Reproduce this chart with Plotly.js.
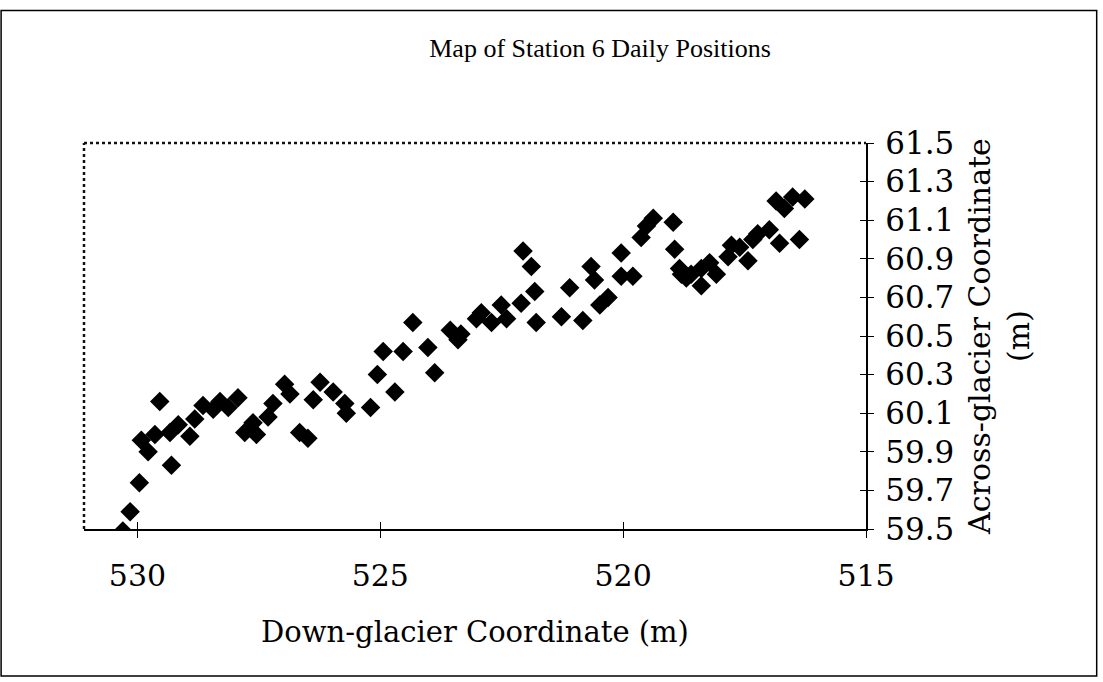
<!DOCTYPE html>
<html>
<head>
<meta charset="utf-8">
<script src="https://cdn.plot.ly/plotly-3.0.1.min.js"></script>
<style>
html,body{margin:0;padding:0;background:#fff;}
#chart{width:1103px;height:682px;}
</style>
</head>
<body>
<div id="chart"></div>
<script>
// Down-glacier coordinate (m)
const downGlacier = [
  530.30, 530.15, 529.96, 529.92, 529.78, 529.64, 529.54, 529.33, 529.30, 529.16,
  528.92, 528.82, 528.65, 528.44, 528.30, 528.13, 527.93, 527.79, 527.62, 527.55,
  527.31, 527.21, 526.97, 526.86, 526.66, 526.49, 526.38, 526.24, 525.97, 525.73,
  525.70, 525.20, 525.06, 524.94, 524.70, 524.53, 524.33, 524.02, 523.88, 523.56,
  523.40, 523.34, 523.02, 522.92, 522.71, 522.51, 522.40, 522.10, 522.06, 521.89,
  521.82, 521.79, 521.27, 521.10, 520.83, 520.66, 520.59, 520.48, 520.31, 520.04,
  520.04, 519.80, 519.63, 519.52, 519.38, 518.97, 518.94, 518.84, 518.80, 518.70,
  518.60, 518.39, 518.39, 518.22, 518.08, 517.84, 517.77, 517.60, 517.43, 517.33,
  517.23, 516.99, 516.78, 516.85, 516.68, 516.51, 516.26, 516.37
];
// Across-glacier coordinate (m)
const acrossGlacier = [
  59.49, 59.59, 59.74, 59.96, 59.90, 59.99, 60.16, 60.00, 59.83, 60.04,
  59.98, 60.07, 60.14, 60.12, 60.16, 60.13, 60.18, 60.00, 60.05, 59.99,
  60.08, 60.15, 60.25, 60.20, 60.00, 59.97, 60.17, 60.26, 60.21, 60.15,
  60.10, 60.13, 60.30, 60.42, 60.21, 60.42, 60.57, 60.44, 60.31, 60.53,
  60.48, 60.51, 60.59, 60.62, 60.57, 60.66, 60.59, 60.67, 60.94, 60.86,
  60.73, 60.57, 60.60, 60.75, 60.58, 60.86, 60.79, 60.66, 60.70, 60.93,
  60.81, 60.81, 61.01, 61.07, 61.11, 61.09, 60.95, 60.85, 60.82, 60.80,
  60.82, 60.76, 60.85, 60.88, 60.82, 60.91, 60.97, 60.96, 60.89, 61.00,
  61.03, 61.05, 60.98, 61.20, 61.16, 61.22, 61.21, 61.00
];
const chartTitle = "Map of Station 6 Daily Positions";
const xTitle = "Down-glacier Coordinate (m)";
const yTitle = "Across-glacier Coordinate<br>(m)";

const serif = "DejaVu Serif, Liberation Serif, serif";
const condSerif = "Liberation Serif, DejaVu Serif, serif";

const trace = {
  x: downGlacier,
  y: acrossGlacier,
  type: "scatter",
  mode: "markers",
  marker: {symbol: "diamond", size: 15, color: "#000", line: {width: 0}},
  hoverinfo: "x+y",
  showlegend: false
};
// empty trace anchoring the inside-tick overlay axes (crossing tick marks)
const ghost = {x: [], y: [], xaxis: "x2", yaxis: "y2", type: "scatter", mode: "markers", showlegend: false};

const layout = {
  width: 1103, height: 682,
  paper_bgcolor: "#fff", plot_bgcolor: "#fff",
  margin: {l: 84, r: 237, t: 143, b: 153, autoexpand: false},
  title: {text: chartTitle, font: {family: condSerif, size: 26, color: "#000"},
          x: 0.544, xanchor: "center", y: 0.93, yanchor: "middle"},
  xaxis: {
    range: [531.1, 515], autorange: false,
    tick0: 515, dtick: 5, ticks: "outside", ticklen: 7, tickwidth: 1, tickcolor: "#000",
    showgrid: false, zeroline: false,
    showline: true, linecolor: "#000", linewidth: 2,
    tickfont: {family: serif, size: 30, color: "#000"},
    ticklabelstandoff: 12,
    title: {text: xTitle, font: {family: serif, size: 29, color: "#000"}, standoff: 30},
    automargin: false
  },
  yaxis: {
    range: [59.5, 61.5], autorange: false, side: "right",
    tick0: 59.5, dtick: 0.2, tickformat: ".1f",
    ticks: "outside", ticklen: 6, tickwidth: 1, tickcolor: "#000",
    showgrid: false, zeroline: false,
    showline: true, linecolor: "#000", linewidth: 2,
    tickfont: {family: serif, size: 31, color: "#000"},
    ticklabelstandoff: 5,
    title: {text: yTitle, font: {family: serif, size: 30, color: "#000"}, standoff: 16},
    automargin: false
  },
  xaxis2: {overlaying: "x", matches: "x", range: [531.1, 515], tick0: 515, dtick: 5,
           ticks: "inside", ticklen: 7, tickwidth: 1, tickcolor: "#000",
           showticklabels: false, showgrid: false, zeroline: false, showline: false, anchor: "y2"},
  yaxis2: {overlaying: "y", range: [59.5, 61.5], tick0: 59.5, dtick: 0.2, side: "right",
           ticks: "inside", ticklen: 6, tickwidth: 1, tickcolor: "#000",
           showticklabels: false, showgrid: false, zeroline: false, showline: false, anchor: "x2"},
  shapes: [
    // dotted plot frame (top and left)
    {type: "line", xref: "paper", yref: "paper", x0: 0, x1: 1, y0: 1, y1: 1,
     line: {color: "#111", width: 2.5, dash: "dot"}, layer: "below"},
    {type: "line", xref: "paper", yref: "paper", x0: 0, x1: 0, y0: 0, y1: 1,
     line: {color: "#111", width: 2.5, dash: "dot"}, layer: "below"},
    // outer chart border
    {type: "rect", xref: "paper", yref: "paper",
     x0: -0.106, x1: 1.295, y0: -0.381, y1: 1.343,
     line: {color: "#000", width: 1.5}, fillcolor: "rgba(0,0,0,0)", layer: "below"}
  ]
};

Plotly.newPlot("chart", [trace, ghost], layout, {staticPlot: true, displayModeBar: false});
</script>
</body>
</html>
